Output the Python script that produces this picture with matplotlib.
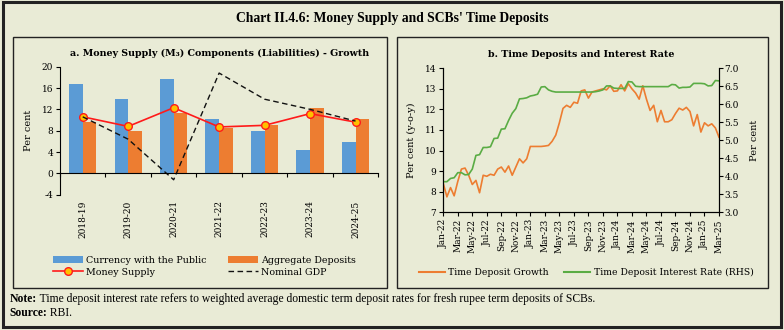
import matplotlib.pyplot as plt
import numpy as np
import pandas as pd
from matplotlib.patches import Rectangle
from matplotlib.lines import Line2D
from matplotlib.text import Annotation

plt.rcParams['font.family'] = ['DejaVu Serif']
plt.rcParams['axes.unicode_minus'] = False

# panel a: money supply components, growth (per cent)
years = ['2018-19', '2019-20', '2020-21', '2021-22', '2022-23', '2023-24', '2024-25']
currency = [16.8, 13.9, 17.7, 10.2, 8.0, 4.3, 5.9]
agg_deposits = [9.7, 8.0, 11.3, 8.5, 9.1, 12.3, 10.1]
money_supply = [10.6, 8.8, 12.3, 8.7, 9.0, 11.2, 9.6]
nominal_gdp = [10.6, 6.4, -1.2, 18.8, 13.9, 12.0, 9.8]

# panel b: fortnightly, Jan-22 to Mar-25
td_growth = [8.4, 7.75, 8.2, 7.8, 8.5, 9.1, 9.15, 8.8, 8.35, 8.55,
             7.95, 8.8, 8.75, 8.85, 8.8, 9.1, 9.2, 8.95, 9.25, 8.8,
             9.2, 9.6, 9.4, 9.6, 10.2, 10.2, 10.2, 10.2, 10.22, 10.25,
             10.45, 10.75, 11.35, 12.05, 12.2, 12.1, 12.35, 12.3, 12.9, 12.95,
             12.55, 12.85, 12.9, 12.95, 13.0, 12.95, 13.15, 12.88, 12.9, 13.2,
             12.9, 13.25, 13.0, 12.8, 12.5, 13.15, 12.5, 11.95, 12.2, 11.4,
             11.95, 11.4, 11.4, 11.5, 11.8, 12.06, 11.97, 12.1, 11.9, 11.2,
             11.75, 10.9, 11.35, 11.2, 11.3, 11.1, 10.65]
td_rate = [3.85, 3.85, 3.94, 3.96, 4.1, 4.1, 4.04, 4.05, 4.2, 4.58,
           4.6, 4.8, 4.8, 4.82, 5.05, 5.06, 5.31, 5.32, 5.55, 5.75,
           5.88, 6.15, 6.16, 6.18, 6.23, 6.25, 6.28, 6.48, 6.49, 6.4,
           6.36, 6.34, 6.34, 6.34, 6.34, 6.34, 6.34, 6.34, 6.34, 6.34,
           6.34, 6.34, 6.35, 6.37, 6.4, 6.51, 6.51, 6.45, 6.44, 6.44,
           6.44, 6.63, 6.62, 6.5, 6.49, 6.49, 6.49, 6.49, 6.49, 6.49,
           6.49, 6.49, 6.49, 6.55, 6.54, 6.45, 6.47, 6.47, 6.48, 6.58,
           6.58, 6.58, 6.57, 6.51, 6.52, 6.66, 6.65]
month_labels = pd.date_range('2022-01-01', '2025-03-01', freq='2MS').strftime('%b-%y').tolist()

bg = '#e9ebd6'
blue = '#5b9bd5'
orange = '#ed7d31'
green = '#5aac44'
fs = 6.5

fig = plt.figure(figsize=(7.84, 3.30), dpi=100, facecolor=bg)

# frames
fig.patches.append(Rectangle((0.004, 0.008), 0.992, 0.985, transform=fig.transFigure,
                             fill=False, edgecolor='#222222', lw=2.2))
fig.patches.append(Rectangle((0.016, 0.128), 0.477, 0.76, transform=fig.transFigure,
                             fill=False, edgecolor='#222222', lw=1.0))
fig.patches.append(Rectangle((0.506, 0.128), 0.474, 0.76, transform=fig.transFigure,
                             fill=False, edgecolor='#222222', lw=1.0))

fig.text(0.5, 0.943, "Chart II.4.6: Money Supply and SCBs' Time Deposits",
         ha='center', va='center', fontsize=9.8, fontweight='bold', family='Liberation Serif')

# ---- panel a
ax = fig.add_axes([0.0765, 0.41, 0.406, 0.388], facecolor=bg)
x = np.arange(len(years))
w = 0.3
b1 = ax.bar(x - w / 2, currency, w, color=blue)
b2 = ax.bar(x + w / 2, agg_deposits, w, color=orange)
l1, = ax.plot(x, money_supply, color='#ff1a1a', lw=1.2, marker='o', ms=5.5,
              mfc='#ffc000', mec='#ff1a1a', mew=1.0)
l2, = ax.plot(x, nominal_gdp, color='#111111', lw=1.0, ls=(0, (4, 2.5)))
ax.set_ylim(-4, 20)
ax.set_yticks(np.arange(-4, 21, 4))
ax.set_xlim(-0.5, len(years) - 0.5)
ax.set_xticks(np.arange(-0.5, len(years), 1))
ax.tick_params(axis='x', labelbottom=False, direction='out', length=3, width=0.8)
ax.tick_params(axis='y', labelsize=fs, length=3, width=0.8, pad=2)
ax.spines['bottom'].set_position(('data', 0))
ax.spines['top'].set_visible(False)
ax.spines['right'].set_visible(False)
ax.set_ylabel('Per cent', fontsize=fs + 0.5, labelpad=6)
sec = ax.secondary_xaxis('bottom')
sec.spines['bottom'].set_visible(False)
sec.set_xticks(x)
sec.set_xticklabels(years, rotation=90, fontsize=fs)
sec.tick_params(length=0, pad=4)
ax.set_title('a. Money Supply (M₃) Components (Liabilities) - Growth',
             fontsize=6.8, fontweight='bold', pad=8)
ax.legend([b1, l1, b2, l2],
          ['Currency with the Public', 'Money Supply', 'Aggregate Deposits', 'Nominal GDP'],
          loc='upper left', bbox_to_anchor=(-0.05, -0.41), ncol=2, frameon=False,
          fontsize=fs + 0.3, handlelength=3.2, handletextpad=0.3, columnspacing=2.3,
          labelspacing=0.3)

# ---- panel b
bx = fig.add_axes([0.5654, 0.3567, 0.3517, 0.4364], facecolor=bg)
t = np.arange(len(td_growth)) / 2
bx.plot(t, td_growth, color=orange, lw=1.2)
bx.set_ylim(7, 14)
bx.set_xlim(0, 38)
bx.set_xticks(np.arange(0, 39, 2))
bx.set_xticklabels(month_labels, rotation=90, fontsize=fs)
bx.tick_params(axis='both', labelsize=fs, length=3, width=0.8, pad=2)
bx.spines['top'].set_visible(False)
bx.set_ylabel('Per cent (y-o-y)', fontsize=fs + 0.5, labelpad=6)
bx.set_title('b. Time Deposits and Interest Rate', fontsize=6.8, fontweight='bold', pad=8)
rx = bx.twinx()
rx.plot(t, td_rate, color=green, lw=1.2)
rx.set_ylim(3, 7)
rx.set_yticks(np.arange(3, 7.01, 0.5))
rx.set_yticklabels([f'{v:.1f}' for v in np.arange(3, 7.01, 0.5)])
rx.tick_params(labelsize=fs, length=3, width=0.8, pad=1)
rx.spines['top'].set_visible(False)
rx.set_ylabel('Per cent', fontsize=fs + 0.5, labelpad=8)
handles = [Line2D([], [], color=orange, lw=1.5), Line2D([], [], color=green, lw=1.5)]
bx.legend(handles, ['Time Deposit Growth', 'Time Deposit Interest Rate (RHS)'],
          loc='upper left', bbox_to_anchor=(-0.12, -0.33), ncol=2, frameon=False,
          fontsize=fs + 0.2, handlelength=2.8, handletextpad=0.4, columnspacing=1.6)

# footnotes
n1 = fig.text(0.012, 0.094, 'Note:', fontsize=8.4, va='center',
              family='Liberation Serif', fontweight='bold')
fig.add_artist(Annotation(' Time deposit interest rate refers to weighted average domestic term deposit rates for fresh rupee term deposits of SCBs.',
                          xy=(1, 0.5), xycoords=n1, va='center', fontsize=8.4,
                          family='Liberation Serif'))
s1 = fig.text(0.012, 0.051, 'Source:', fontsize=8.4, va='center',
              family='Liberation Serif', fontweight='bold')
fig.add_artist(Annotation(' RBI.', xy=(1, 0.5), xycoords=s1, va='center', fontsize=8.4,
                          family='Liberation Serif'))

fig.savefig('out.png', dpi=100, facecolor=bg)
